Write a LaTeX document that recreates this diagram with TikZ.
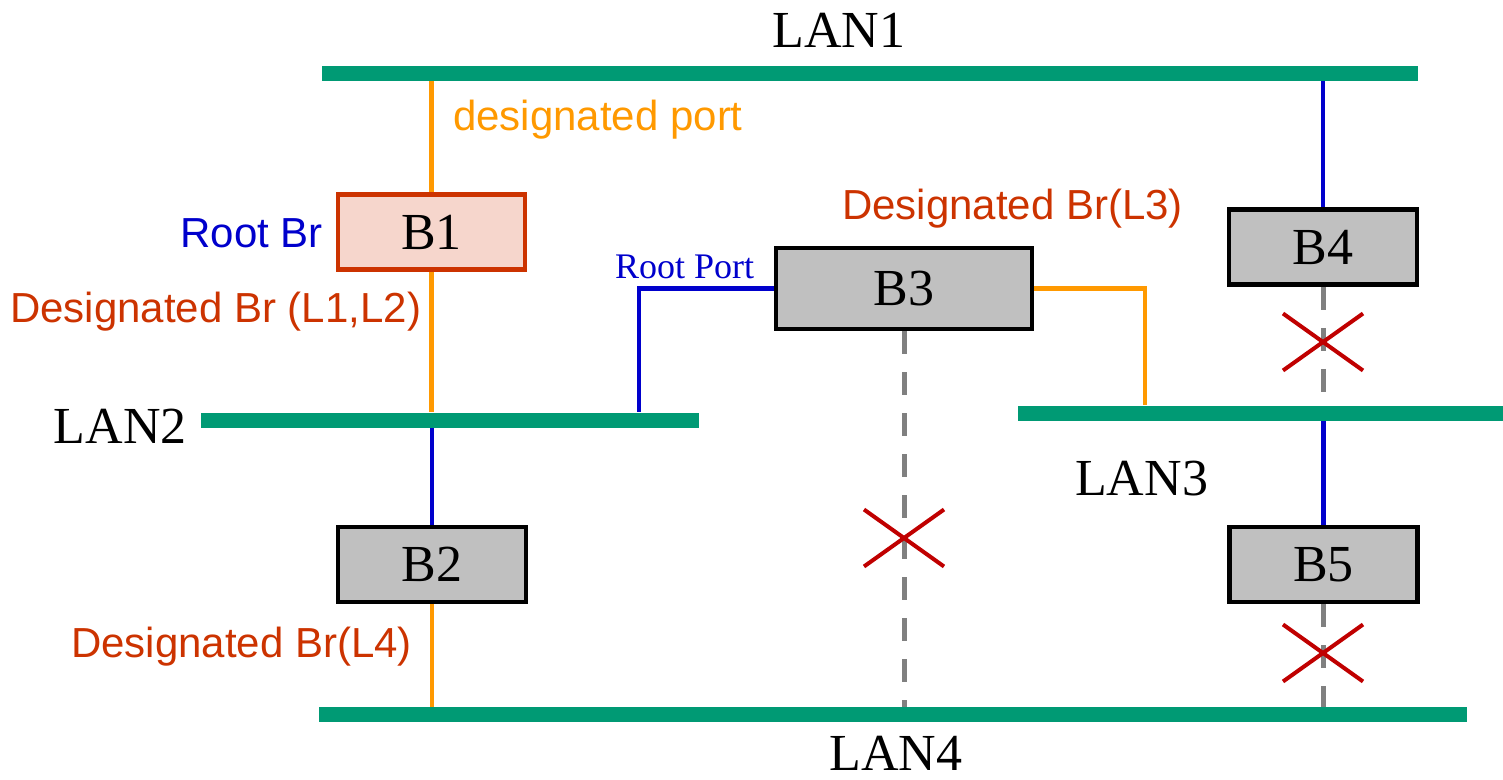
\documentclass[tikz,border=0pt]{standalone}
\usepackage{fontspec}
\setmainfont{Liberation Serif}
\newfontfamily\sansf{Liberation Sans}
\usetikzlibrary{shapes.misc,backgrounds}
\definecolor{langreen}{RGB}{0,154,116}
\definecolor{portorange}{RGB}{255,153,0}
\definecolor{brred}{RGB}{204,51,0}
\definecolor{rootblue}{RGB}{0,0,204}
\definecolor{rootfill}{RGB}{246,214,204}
\definecolor{boxgray}{RGB}{192,192,192}
\definecolor{dashgray}{RGB}{128,128,128}
\definecolor{crossred}{RGB}{192,0,0}
\begin{document}
\begin{tikzpicture}[x=1pt,y=-1pt,
  lanbar/.style={fill=langreen,draw=none,inner sep=0pt,minimum height=15pt,rectangle},
  lanlabel/.style={inner sep=0pt,font=\fontsize{52}{60}\selectfont},
  bridge/.style={draw=black,fill=boxgray,line width=4.5pt,rectangle,inner sep=0pt,
    minimum width=188pt,minimum height=75pt,font=\fontsize{52}{60}\selectfont},
  rootbridge/.style={bridge,draw=brred,fill=rootfill,minimum width=187pt},
  sanslabel/.style={inner sep=0pt,font=\sansf\fontsize{42}{50}\selectfont},
  orangeline/.style={draw=portorange,line width=4.5pt},
  blueline/.style={draw=rootblue,line width=4.5pt},
  blockedline/.style={draw=dashgray,line width=5pt,dash pattern=on 23pt off 18pt},
  blockmark/.style={draw=crossred,cross out,line width=4pt,minimum width=76pt,minimum height=53pt,inner sep=0pt}
]
\useasboundingbox (0,0) rectangle (1503,779);

% LAN bars
\node[lanbar,minimum width=1096pt] (LAN1) at (870,73) {};
\node[lanbar,minimum width=498pt] (LAN2) at (450,420) {};
\node[lanbar,minimum width=485pt] (LAN3) at (1260.5,413) {};
\node[lanbar,minimum width=1148pt] (LAN4) at (893,714.5) {};

% bridges
\node[rootbridge] (B1) at (431.5,232) {B1};
\node[bridge] (B2) at (432,564.5) {B2};
\node[bridge,minimum width=256pt,minimum height=81pt] (B3) at (904,288.5) {B3};
\node[bridge] (B4) at (1323,247) {B4};
\node[bridge] (B5) at (1323.5,564.5) {B5};

% helper coordinates
\coordinate (rpx) at (639,0);
\coordinate (dpx) at (1145,0);

% connectors (behind boxes and bars)
\begin{pgfonlayer}{background}
\draw[orangeline] (B1.north) -- (B1.north |- LAN1.south);
\draw[orangeline] (B1.south) -- (B1.south |- LAN2.north);
\draw[blueline] (B2.north) -- (B2.north |- LAN2.south);
\draw[orangeline] (B2.south) -- (B2.south |- LAN4.north);
\draw[blueline] (B3.west) -| (rpx |- LAN2.north);
\draw[orangeline] (B3.east) -| (dpx |- LAN3.north);
\draw[blockedline] (B3.south) -- (B3.south |- LAN4.north);
\draw[blueline] (B4.north) -- (B4.north |- LAN1.south);
\draw[blockedline] (B4.south) -- (B4.south |- LAN3.north);
\draw[blueline] (B5.north) -- (B5.north |- LAN3.south);
\draw[blockedline] (B5.south) -- (B5.south |- LAN4.north);
\end{pgfonlayer}

% blocked marks
\node[blockmark] (X3) at (904,538) {};
\node[blockmark] (X4) at (1323,342) {};
\node[blockmark] (X5) at (1323,653) {};

% LAN labels
\node[lanlabel,anchor=base] (L1t) at (839,47) {LAN1};
\node[lanlabel,anchor=base east] (L2t) at (187,443) {LAN2};
\node[lanlabel,anchor=base west] (L3t) at (1075,495) {LAN3};
\node[lanlabel,anchor=base] (L4t) at (896,770) {LAN4};

% port / bridge labels
\node[sanslabel,text=portorange,anchor=base west] (dp) at (453,130) {designated port};
\node[sanslabel,text=rootblue,anchor=base east] (rb) at (323,247) {Root Br};
\node[sanslabel,text=brred,anchor=base west] (d12) at (10,322) {Designated Br (L1,L2)};
\node[sanslabel,text=brred,anchor=base west] (d4) at (71,657) {Designated Br(L4)};
\node[sanslabel,text=brred,anchor=base west] (d3) at (842,219) {Designated Br(L3)};
\node[inner sep=0pt,text=rootblue,anchor=base west,font=\fontsize{36}{42}\selectfont] (rp) at (615,278) {Root Port};
\end{tikzpicture}
\end{document}
